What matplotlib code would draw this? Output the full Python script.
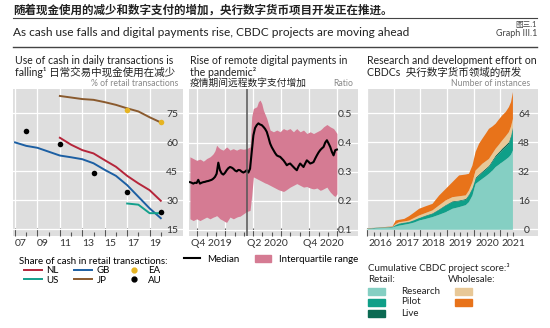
import numpy as np
import pandas as pd
import matplotlib.pyplot as plt
from matplotlib.lines import Line2D
from matplotlib.patches import Patch, Rectangle

plt.rcParams['font.family'] = ['Lato', 'Noto Sans CJK SC', 'DejaVu Sans']

# ---- panel 1: cash share (% of retail transactions), x = year-end position
nl_x = [2011, 2012, 2013, 2014, 2015, 2016, 2017, 2018, 2019, 2020]
nl_y = [62.4, 58.8, 56.0, 54.3, 50.8, 47.4, 42.7, 38.8, 35.3, 29.8]
gb_x = [2007, 2008, 2009, 2010, 2011, 2012, 2013, 2014, 2015, 2016, 2017, 2018, 2019, 2020]
gb_y = [60.0, 58.2, 57.2, 55.2, 53.2, 52.3, 51.3, 49.2, 45.8, 42.7, 37.9, 31.9, 25.9, 20.8]
jp_x = [2011, 2012, 2013, 2014, 2015, 2016, 2017, 2018, 2019, 2020]
jp_y = [84.0, 83.2, 82.4, 82.0, 80.8, 79.4, 77.6, 76.0, 73.0, 70.3]
us_x = [2017, 2018, 2019, 2020]
us_y = [28.4, 27.8, 23.4, 23.4]
ea_x = [2017, 2020]
ea_y = [76.7, 70.3]
au_x = [2008, 2011, 2014, 2017, 2020]
au_y = [66.0, 59.1, 44.3, 34.1, 24.1]

# ---- panel 2: remote digital payments ratio (Sep 2019 - Dec 2020)
remote_median = [0.264, 0.262, 0.259, 0.262, 0.261, 0.272, 0.259, 0.262, 0.264, 0.265,
                 0.267, 0.268, 0.270, 0.272, 0.276, 0.282, 0.293, 0.331, 0.305, 0.294,
                 0.290, 0.296, 0.305, 0.312, 0.316, 0.314, 0.310, 0.304, 0.301, 0.306,
                 0.305, 0.300, 0.297, 0.300, 0.305, 0.297, 0.310, 0.368, 0.425, 0.450,
                 0.460, 0.466, 0.462, 0.460, 0.454, 0.447, 0.437, 0.418, 0.397, 0.384,
                 0.374, 0.364, 0.356, 0.353, 0.351, 0.345, 0.339, 0.331, 0.322, 0.326,
                 0.328, 0.322, 0.316, 0.310, 0.305, 0.318, 0.328, 0.322, 0.316, 0.328,
                 0.339, 0.334, 0.328, 0.330, 0.333, 0.345, 0.356, 0.366, 0.374, 0.380,
                 0.385, 0.400, 0.408, 0.397, 0.385, 0.368, 0.356, 0.374, 0.376]
remote_upper = [0.351, 0.348, 0.345, 0.342, 0.339, 0.341, 0.343, 0.340, 0.336, 0.340,
                0.345, 0.348, 0.351, 0.356, 0.362, 0.372, 0.391, 0.384, 0.379, 0.376,
                0.374, 0.380, 0.385, 0.380, 0.374, 0.377, 0.379, 0.376, 0.374, 0.377,
                0.379, 0.378, 0.377, 0.378, 0.379, 0.382, 0.385, 0.489, 0.517, 0.520,
                0.523, 0.540, 0.546, 0.534, 0.511, 0.497, 0.483, 0.463, 0.443, 0.440,
                0.437, 0.440, 0.443, 0.440, 0.437, 0.443, 0.448, 0.445, 0.443, 0.446,
                0.448, 0.442, 0.437, 0.443, 0.448, 0.442, 0.437, 0.440, 0.443, 0.437,
                0.431, 0.434, 0.437, 0.434, 0.431, 0.434, 0.437, 0.440, 0.443, 0.448,
                0.454, 0.458, 0.462, 0.458, 0.454, 0.451, 0.448, 0.440, 0.431]
remote_lower = [0.138, 0.135, 0.132, 0.135, 0.138, 0.135, 0.132, 0.135, 0.138, 0.141,
                0.144, 0.141, 0.138, 0.141, 0.144, 0.146, 0.149, 0.144, 0.138, 0.135,
                0.132, 0.128, 0.126, 0.135, 0.144, 0.141, 0.138, 0.141, 0.144, 0.146,
                0.147, 0.151, 0.155, 0.159, 0.163, 0.165, 0.167, 0.218, 0.282, 0.279,
                0.276, 0.273, 0.270, 0.267, 0.264, 0.261, 0.259, 0.256, 0.253, 0.250,
                0.247, 0.244, 0.241, 0.238, 0.236, 0.234, 0.232, 0.235, 0.239, 0.243,
                0.247, 0.250, 0.253, 0.256, 0.259, 0.256, 0.253, 0.250, 0.247, 0.248,
                0.249, 0.246, 0.244, 0.242, 0.241, 0.242, 0.244, 0.240, 0.236, 0.238,
                0.241, 0.244, 0.247, 0.238, 0.230, 0.224, 0.218, 0.215, 0.224]
remote_dates = pd.date_range('2019-09-07', '2020-12-31', periods=len(remote_median))
pandemic_date = pd.Timestamp('2020-03-11')

# ---- panel 3: cumulative CBDC project score, top of each stacked band
cbdc_x = [2016.0, 2016.31, 2016.63, 2016.94, 2017.06, 2017.19, 2017.38, 2017.56,
          2017.75, 2017.94, 2018.19, 2018.44, 2018.69, 2018.94, 2019.19, 2019.44,
          2019.69, 2019.81, 2019.94, 2020.06, 2020.19, 2020.31, 2020.44, 2020.56,
          2020.69, 2020.81, 2020.94, 2021.06, 2021.19, 2021.31, 2021.39, 2021.46]
retail_research = [0.3, 0.8, 1.0, 1.3, 1.8, 2.3, 2.8, 3.3, 4.0, 5.1, 6.0, 7.0, 8.3, 9.7, 11.6, 12.5,
                   13.6, 15.3, 18.9, 25.3, 26.8, 28.1, 29.5, 30.9, 32.6, 34.6, 36.0, 37.3, 38.7,
                   40.1, 41.5, 43.8]
retail_pilot = [0.4, 0.9, 1.1, 1.4, 2.5, 3.3, 3.8, 4.2, 5.2, 6.4, 7.6, 8.8, 11.0, 13.4, 15.3, 15.8,
                16.5, 18.9, 22.6, 28.1, 29.8, 31.4, 33.0, 34.6, 37.5, 40.1, 42.0, 43.8, 45.6,
                47.4, 51.0, 55.7]
retail_live = [0.6, 1.1, 1.3, 1.6, 2.7, 3.5, 4.0, 4.4, 5.4, 6.6, 7.9, 9.1, 11.3, 13.7, 15.7, 16.2,
               17.0, 19.4, 23.1, 28.7, 30.5, 32.1, 33.7, 35.3, 38.2, 40.9, 42.9, 44.8, 46.6,
               48.4, 52.0, 56.7]
wholesale_research = [0.7, 1.2, 1.4, 1.7, 3.2, 4.2, 4.6, 5.1, 6.5, 7.9, 9.3, 10.7, 13.5, 16.2, 18.0,
                      18.5, 19.0, 21.7, 26.3, 32.7, 34.6, 36.4, 37.8, 39.1, 42.0, 44.7, 47.0,
                      49.3, 51.6, 53.9, 57.0, 61.2]
wholesale_pilot = [0.8, 1.2, 1.5, 1.9, 5.1, 5.5, 6.0, 7.5, 9.5, 11.6, 13.0, 14.3, 18.9, 22.6, 26.3,
                   30.0, 30.5, 30.9, 35.5, 43.0, 47.5, 50.2, 53.0, 55.7, 57.0, 58.5, 61.0, 63.1,
                   65.0, 67.7, 70.5, 76.0]

BG = '#dedede'
TXT = '#222222'
TICK = '#333333'
col_nl, col_gb, col_ea = '#b5253a', '#1c5fa3', '#e6b422'
col_us, col_jp, col_au = '#13a08c', '#8a5a2e', 'black'
col_iqr = '#d57b93'
col_rr, col_rp, col_rl = '#85cfc3', '#0f9f88', '#0b6a52'
col_wr, col_wp = '#e8c897', '#e8731a'

W, H = 550, 328
def fx(p):
    return p / W
def fy(p):
    return 1 - p / H

fig = plt.figure(figsize=(5.5, 3.28), dpi=100)

# header
fig.text(fx(13), fy(10), '随着现金使用的减少和数字支付的增加，央行数字货币项目开发正在推进。',
         fontsize=8.3, fontweight='bold', family=['Noto Sans CJK SC'], color=TXT, va='center')
fig.add_artist(Line2D([fx(13), fx(537)], [fy(18), fy(18)], color='#444444', lw=0.8))
fig.text(fx(13), fy(33), 'As cash use falls and digital payments rise, CBDC projects are moving ahead',
         fontsize=8.6, color=TXT, va='center')
fig.text(fx(537), fy(25), '图三.1', fontsize=5.5, color='#444444', ha='right', va='center')
fig.text(fx(537), fy(34), 'Graph III.1', fontsize=6.5, color='#444444', ha='right', va='center')
fig.add_artist(Line2D([fx(13), fx(537)], [fy(47), fy(47)], color='#444444', lw=1.0))

bottom = fy(236)
height = 147 / H
ax1 = fig.add_axes([fx(13), bottom, 170 / W, height])
ax2 = fig.add_axes([fx(189), bottom, 169 / W, height])
ax3 = fig.add_axes([fx(367), bottom, 171 / W, height])

def style(ax, yticks, pad_px):
    ax.set_facecolor(BG)
    for s in ax.spines.values():
        s.set_visible(False)
    ax.yaxis.tick_right()
    ax.set_yticks(yticks)
    ax.tick_params(axis='y', length=0, pad=-pad_px * 0.72, labelsize=7.5, colors=TICK)
    for lab in ax.get_yticklabels():
        lab.set_ha('right')
    ax.tick_params(axis='x', which='both', direction='in', color='#555555', width=0.8,
                   labelbottom=False)
    ax.tick_params(axis='x', which='major', length=6)
    ax.tick_params(axis='x', which='minor', length=3)
    ax.grid(True, which='major', color='white', lw=0.9)
    ax.set_axisbelow(True)

def xlabels(ax, pos, labels):
    for p, l in zip(pos, labels):
        ax.text(p, -0.02, l, transform=ax.get_xaxis_transform(), ha='center', va='top',
                fontsize=7.5, color=TICK)

# ---- panel 1
ax1.plot(jp_x, jp_y, color=col_jp, lw=1.4)
ax1.plot(nl_x, nl_y, color=col_nl, lw=1.4)
ax1.plot(gb_x, gb_y, color=col_gb, lw=1.4)
ax1.plot(us_x, us_y, color=col_us, lw=1.4)
ax1.scatter(ea_x, ea_y, color=col_ea, s=16, zorder=3, lw=0)
ax1.scatter(au_x, au_y, color=col_au, s=16, zorder=3, lw=0)
ax1.set_xlim(2006.82, 2021.98)
ax1.set_ylim(11.6, 87.6)
style(ax1, [15, 30, 45, 60, 75], 5)
ax1.set_xticks([2007, 2009, 2011, 2013, 2015, 2017, 2019])
ax1.set_xticks([2008, 2010, 2012, 2014, 2016, 2018, 2020], minor=True)
xlabels(ax1, [2007.5, 2009.5, 2011.5, 2013.5, 2015.5, 2017.5, 2019.5],
        ['07', '09', '11', '13', '15', '17', '19'])

fig.text(fx(15), fy(60), 'Use of cash in daily transactions is', fontsize=7.6, color=TXT, va='center')
fig.text(fx(15), fy(72), 'falling¹ 日常交易中现金使用在减少', fontsize=7.6, color=TXT, va='center')
fig.text(fx(178), fy(84), '% of retail transactions', fontsize=6.2, color='#888888',
         ha='right', va='center')

h1 = [Line2D([], [], color=col_nl, lw=1.4), Line2D([], [], color=col_us, lw=1.4),
      Line2D([], [], color=col_gb, lw=1.4), Line2D([], [], color=col_jp, lw=1.4),
      Line2D([], [], color=col_ea, marker='o', ms=3.5, lw=0),
      Line2D([], [], color=col_au, marker='o', ms=3.5, lw=0)]
fig.legend(h1, ['NL', 'US', 'GB', 'JP', 'EA', 'AU'], ncol=3, frameon=False,
           loc='upper center', bbox_to_anchor=(fx(93), fy(252)),
           title='Share of cash in retail transactions:', fontsize=7, title_fontsize=7,
           handlelength=1.8, handletextpad=0.5, columnspacing=1.6, labelspacing=0.05,
           borderpad=0.0)

# ---- panel 2
ax2.fill_between(remote_dates, remote_lower, remote_upper, color=col_iqr, lw=0)
ax2.plot(remote_dates, remote_median, color='black', lw=1.5)
ax2.axvline(pandemic_date, color='#555555', lw=1.1)
ax2.set_xlim(pd.Timestamp('2019-09-04'), pd.Timestamp('2021-03-10'))
ax2.set_ylim(0.079, 0.584)
style(ax2, [0.1, 0.2, 0.3, 0.4, 0.5], 6)
ax2.set_yticklabels(['0.1', '0.2', '0.3', '0.4', '0.5'])
for lab in ax2.get_yticklabels():
    lab.set_ha('right')
ax2.set_xticks(pd.date_range('2019-10-01', '2021-01-01', freq='QS'))
ax2.set_xticks(pd.date_range('2019-10-01', '2021-01-01', freq='MS'), minor=True)
xlabels(ax2, [pd.Timestamp('2019-11-15'), pd.Timestamp('2020-05-16'), pd.Timestamp('2020-11-15')],
        ['Q4 2019', 'Q2 2020', 'Q4 2020'])

fig.text(fx(190), fy(60), 'Rise of remote digital payments in', fontsize=7.6, color=TXT, va='center')
fig.text(fx(190), fy(72), 'the pandemic²', fontsize=7.6, color=TXT, va='center')
fig.text(fx(190), fy(83), '疫情期间远程数字支付增加', fontsize=7, color=TXT, va='center',
         family=['Noto Sans CJK SC'])
fig.text(fx(353), fy(84), 'Ratio', fontsize=6.2, color='#888888', ha='right', va='center')

h2 = [Line2D([], [], color='black', lw=1.5), Patch(color=col_iqr)]
fig.legend(h2, ['Median', 'Interquartile range'], ncol=2, frameon=False,
           loc='center', bbox_to_anchor=(fx(271), fy(259)), fontsize=7,
           handlelength=1.6, handletextpad=0.8, columnspacing=1.6, borderpad=0.1)

# ---- panel 3
ax3.fill_between(cbdc_x, 0, retail_research, color=col_rr, lw=0)
ax3.fill_between(cbdc_x, retail_research, retail_pilot, color=col_rp, lw=0)
ax3.fill_between(cbdc_x, retail_pilot, retail_live, color=col_rl, lw=0)
ax3.fill_between(cbdc_x, retail_live, wholesale_research, color=col_wr, lw=0)
ax3.fill_between(cbdc_x, wholesale_research, wholesale_pilot, color=col_wp, lw=0)
ax3.set_xlim(2016.01, 2022.42)
ax3.set_ylim(-3.7, 77.4)
style(ax3, [0, 16, 32, 48, 64], 8)
ax3.set_xticks([2016, 2017, 2018, 2019, 2020, 2021])
ax3.set_xticks([2016.25, 2016.5, 2016.75, 2017.25, 2017.5, 2017.75, 2018.25, 2018.5, 2018.75,
                2019.25, 2019.5, 2019.75, 2020.25, 2020.5, 2020.75, 2021.25, 2021.5], minor=True)
xlabels(ax3, [2016.5, 2017.5, 2018.5, 2019.5, 2020.5, 2021.5],
        ['2016', '2017', '2018', '2019', '2020', '2021'])

fig.text(fx(367), fy(60), 'Research and development effort on', fontsize=7.6, color=TXT, va='center')
fig.text(fx(367), fy(72), 'CBDCs  央行数字货币领域的研发', fontsize=7.6, color=TXT, va='center')
fig.text(fx(530), fy(84), 'Number of instances', fontsize=6.2, color='#888888',
         ha='right', va='center')

fig.text(fx(368), fy(268), 'Cumulative CBDC project score:³', fontsize=7, color=TXT, va='center')
fig.text(fx(368), fy(279), 'Retail:', fontsize=7, color=TXT, va='center')
fig.text(fx(448), fy(279), 'Wholesale:', fontsize=7, color=TXT, va='center')
for yy, c, lab in [(291, col_rr, 'Research'), (302, col_rp, 'Pilot'), (313, col_rl, 'Live')]:
    fig.add_artist(Rectangle((fx(368), fy(yy + 3.5)), 17 / W, 7 / H, color=c,
                             transform=fig.transFigure))
    fig.text(fx(401), fy(yy), lab, fontsize=7, color=TXT, va='center')
for yy, c in [(291, col_wr), (302, col_wp)]:
    fig.add_artist(Rectangle((fx(455), fy(yy + 3.5)), 17 / W, 7 / H, color=c,
                             transform=fig.transFigure))

fig.savefig('out.png', dpi=100)
